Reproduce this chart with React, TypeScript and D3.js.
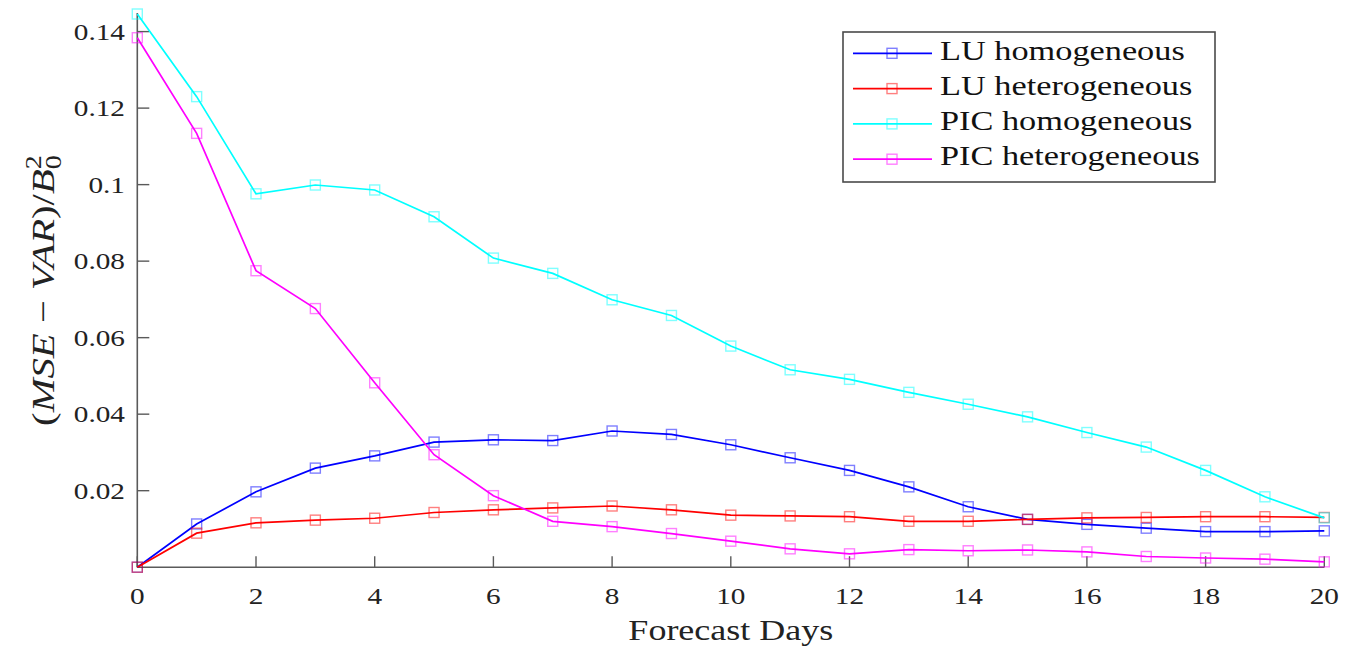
import React from "react";
import * as d3 from "d3";

const days = [0, 1, 2, 3, 4, 5, 6, 7, 8, 9, 10, 11, 12, 13, 14, 15, 16, 17, 18, 19, 20];

const luHomogeneous = [0, 0.0113, 0.0197, 0.0259, 0.0291, 0.0327, 0.0333, 0.0331, 0.0356, 0.0347, 0.032, 0.0286, 0.0253, 0.021, 0.0158, 0.0125, 0.0112, 0.0102, 0.0093, 0.0093, 0.0095];
const luHeterogeneous = [0, 0.0089, 0.0116, 0.0123, 0.0128, 0.0143, 0.015, 0.0155, 0.016, 0.015, 0.0136, 0.0134, 0.0132, 0.012, 0.012, 0.0125, 0.0129, 0.013, 0.0132, 0.0132, 0.013];
const picHomogeneous = [0.1446, 0.123, 0.0976, 0.0999, 0.0986, 0.0916, 0.0808, 0.0768, 0.0699, 0.0658, 0.0578, 0.0516, 0.0491, 0.0457, 0.0426, 0.0393, 0.0352, 0.0314, 0.0253, 0.0184, 0.0129];
const picHeterogeneous = [0.1384, 0.1134, 0.0775, 0.0676, 0.0482, 0.0294, 0.0187, 0.012, 0.0106, 0.0088, 0.0068, 0.0048, 0.0035, 0.0046, 0.0043, 0.0045, 0.004, 0.0028, 0.0024, 0.0021, 0.0014];

const seriesNames = ["LU homogeneous", "LU heterogeneous", "PIC homogeneous", "PIC heterogeneous"];
const seriesValues = [luHomogeneous, luHeterogeneous, picHomogeneous, picHeterogeneous];
const seriesColors = ["#0000ff", "#ff0000", "#00ffff", "#ff00ff"];

const xTicks = [0, 2, 4, 6, 8, 10, 12, 14, 16, 18, 20];
const yTicks = [0.02, 0.04, 0.06, 0.08, 0.1, 0.12, 0.14];
const yTickLabels = ["0.02", "0.04", "0.06", "0.08", "0.1", "0.12", "0.14"];

const FONT = "'Liberation Serif', 'Times New Roman', serif";
const SX = 1.22;

export default function App() {
  const W = 1362, H = 646;
  const x = d3.scaleLinear().domain([0, 20]).range([137.3, 1324.3]);
  const y = d3.scaleLinear().domain([0, 0.1446]).range([567.2, 14]);
  const line = d3.line<number>().x((_, i) => x(days[i])).y((v) => y(v));
  const axisColor = "#5a5a5a";
  const ms = 10;

  const legX = 843, legY = 32, legW = 372, legH = 150;

  return (
    <svg width={W} height={H} style={{ position: "absolute", left: 0, top: 0, background: "#fff" }}>
      {/* axes */}
      <line x1={x(0)} x2={x(20)} y1={y(0)} y2={y(0)} stroke={axisColor} strokeWidth={1.6} />
      <line x1={x(0)} x2={x(0)} y1={y(0)} y2={y.range()[1] - 1} stroke={axisColor} strokeWidth={1.6} />
      {xTicks.map((t) => (
        <g key={"xt" + t}>
          <line x1={x(t)} x2={x(t)} y1={y(0)} y2={y(0) - 11} stroke={axisColor} strokeWidth={1.4} />
          <text transform={`translate(${x(t)},603.5) scale(${SX},1)`} textAnchor="middle" fontFamily={FONT} fontSize={24} fill="#222">
            {t}
          </text>
        </g>
      ))}
      {yTicks.map((t, i) => (
        <g key={"yt" + t}>
          <line x1={x(0)} x2={x(0) + 12} y1={y(t)} y2={y(t)} stroke={axisColor} strokeWidth={1.4} />
          <text transform={`translate(125,${y(t) + 8.3}) scale(${SX},1)`} textAnchor="end" fontFamily={FONT} fontSize={24} fill="#222">
            {yTickLabels[i]}
          </text>
        </g>
      ))}

      {/* axis labels */}
      <text transform={`translate(${(x(0) + x(20)) / 2},640) scale(1.2,1)`} textAnchor="middle" fontFamily={FONT} fontSize={30} fill="#222">
        Forecast Days
      </text>
      <text transform={`translate(54,${(y(0) + y.range()[1]) / 2}) rotate(-90) scale(1.4,1.12)`} textAnchor="middle" fontFamily={FONT} fontSize={29} fill="#222">
        <tspan>(</tspan>
        <tspan fontStyle="italic">MSE</tspan>
        <tspan> − </tspan>
        <tspan fontStyle="italic">VAR</tspan>
        <tspan>)/</tspan>
        <tspan fontStyle="italic">B</tspan>
        <tspan fontSize={20} dy={6}>0</tspan>
        <tspan fontSize={20} dx={-10} dy={-18}>2</tspan>
      </text>

      {/* series */}
      {seriesValues.map((vals, si) => (
        <g key={"s" + si}>
          <path d={line(vals) || ""} fill="none" stroke={seriesColors[si]} strokeWidth={1.7} />
          {vals.map((v, i) => (
            <rect
              key={i}
              x={x(days[i]) - ms / 2}
              y={y(v) - ms / 2}
              width={ms}
              height={ms}
              fill="none"
              stroke={seriesColors[si]}
              strokeOpacity={0.5}
              strokeWidth={1.4}
            />
          ))}
        </g>
      ))}

      {/* legend */}
      <rect x={legX} y={legY} width={legW} height={legH} fill="#fff" stroke="#4a4a4a" strokeWidth={1.6} />
      {seriesNames.map((name, i) => {
        const ly = 53.3 + i * 35.3;
        return (
          <g key={"l" + i}>
            <line x1={853} x2={932} y1={ly} y2={ly} stroke={seriesColors[i]} strokeWidth={1.7} />
            <rect x={892 - ms / 2} y={ly - ms / 2} width={ms} height={ms} fill="none" stroke={seriesColors[i]} strokeOpacity={0.5} strokeWidth={1.4} />
            <text transform={`translate(940,${ly + 6.2}) scale(1.27,1)`} fontFamily={FONT} fontSize={27} fill="#111">
              {name}
            </text>
          </g>
        );
      })}
    </svg>
  );
}
